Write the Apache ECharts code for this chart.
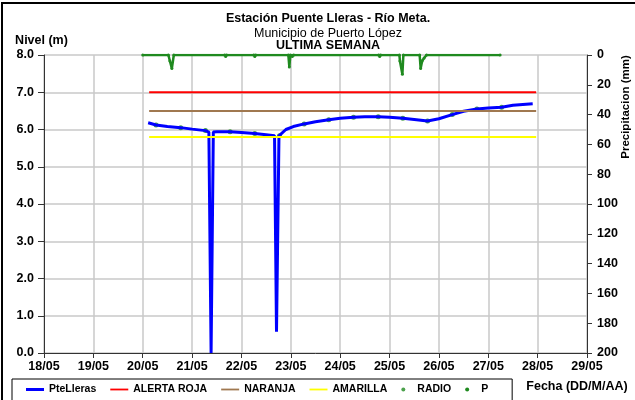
<!DOCTYPE html>
<html>
<head>
<meta charset="utf-8">
<script src="https://cdn.jsdelivr.net/npm/echarts@6/dist/echarts.min.js"></script>
<style>
  html, body { margin: 0; padding: 0; background: #fff; }
  #chart { width: 635px; height: 400px; }
</style>
</head>
<body>
<div id="chart"></div>
<script>
// nivel del rio (dias de mayo, metros)
var nivelDias = [20.11, 20.27, 20.5, 20.77, 21.0, 21.27, 21.34, 21.385, 21.43, 21.5, 21.77, 22.0, 22.27, 22.5, 22.67, 22.71, 22.76, 22.9, 23.05, 23.27, 23.5, 23.77, 24.0, 24.27, 24.5, 24.77, 25.0, 25.27, 25.5, 25.77, 26.0, 26.27, 26.5, 26.77, 27.0, 27.27, 27.5, 27.7, 27.9]
var nivelValores = [6.18, 6.12, 6.08, 6.05, 6.01, 5.97, 5.93, 0, 5.93, 5.94, 5.94, 5.92, 5.89, 5.86, 5.83, 0.57, 5.83, 6.0, 6.08, 6.15, 6.21, 6.26, 6.30, 6.33, 6.34, 6.34, 6.33, 6.30, 6.27, 6.23, 6.29, 6.40, 6.49, 6.55, 6.58, 6.60, 6.65, 6.67, 6.69]
// lecturas radio
var radioDias = [20.27, 20.77, 21.27, 21.77, 22.27, 22.77, 23.27, 23.77, 24.27, 24.77, 25.27, 25.77, 26.27, 26.77, 27.27]
var radioValores = [6.12, 6.05, 5.97, 5.94, 5.89, 5.83, 6.15, 6.26, 6.33, 6.34, 6.30, 6.23, 6.40, 6.55, 6.60]
// precipitacion (mm)
var precDias = [20.0, 20.52, 20.55, 20.59, 20.63, 21.66, 21.68, 21.70, 22.25, 22.27, 22.29, 22.95, 22.97, 22.99, 23.03, 23.06, 24.78, 24.80, 24.82, 25.20, 25.21, 25.26, 25.28, 25.61, 25.63, 25.66, 25.70, 25.75, 27.24]
var precValores = [0, 0, 4, 9, 0, 0, 1, 0, 0, 1, 0, 0, 8, 0, 1, 0, 0, 1, 0, 0, 4, 13, 0, 0, 9, 4, 2, 0, 0]
// umbrales
var umbralDias = [20.13, 27.97]
var alertaRoja = 7.0
var naranja = 6.5
var amarilla = 5.8

var fuente = 'Liberation Sans, Arial, sans-serif'

function pares(xs, ys) {
  var out = []
  xs.forEach(function (x, i) {
    out.push([x, ys[i]])
  })
  return out
}
function umbral(v) {
  return umbralDias.map(function (d) { return [d, v] })
}

var chart = echarts.init(document.getElementById('chart'))
chart.setOption({
  backgroundColor: '#ffffff',
  animation: false,
  title: [
    { text: 'Estación Puente Lleras - Río Meta.', left: 328, top: 12, textAlign: 'center', padding: 0,
      textStyle: { fontFamily: fuente, fontSize: 12.5, fontWeight: 'bold', color: '#000' } },
    { text: 'Municipio de Puerto López', left: 328, top: 27, textAlign: 'center', padding: 0,
      textStyle: { fontFamily: fuente, fontSize: 12.5, fontWeight: 'normal', color: '#000' } },
    { text: 'ULTIMA SEMANA', left: 328, top: 39, textAlign: 'center', padding: 0,
      textStyle: { fontFamily: fuente, fontSize: 12.5, fontWeight: 'bold', color: '#000' } }
  ],
  grid: { left: 44, right: 48, top: 55, bottom: 47 },
  legend: {
    left: 12,
    top: 379,
    padding: [5, 24, 20, 14],
    borderColor: '#000',
    borderWidth: 1,
    itemWidth: 18,
    itemHeight: 4,
    itemGap: 14,
    textStyle: { fontFamily: fuente, fontSize: 10.5, fontWeight: 'bold', color: '#000' },
    data: [
      { name: 'PteLleras', icon: 'path://M0,0H24V4H0Z' },
      { name: 'ALERTA ROJA', icon: 'path://M0,0H24V2.4H0Z' },
      { name: 'NARANJA', icon: 'path://M0,0H24V2.4H0Z' },
      { name: 'AMARILLA', icon: 'path://M0,0H24V2.4H0Z' },
      { name: 'RADIO', icon: 'circle' },
      { name: 'P', icon: 'circle' }
    ]
  },
  xAxis: {
    type: 'value',
    min: 18,
    max: 29,
    interval: 1,
    axisLine: { lineStyle: { color: '#333', width: 1 } },
    axisTick: { show: true, length: 5, lineStyle: { color: '#333' } },
    axisLabel: {
      margin: 7,
      fontFamily: fuente, fontSize: 12.5, fontWeight: 'bold', color: '#000',
      formatter: function (v) { return v + '/05' }
    },
    splitLine: { show: true, lineStyle: { color: '#c8c8c8', width: 1.5 } }
  },
  yAxis: [
    {
      type: 'value',
      min: 0,
      max: 8,
      interval: 1,
      name: 'Nivel (m)',
      nameGap: 8,
      nameTextStyle: { fontFamily: fuente, fontSize: 12.5, fontWeight: 'bold', color: '#000', padding: [0, 5, 0, 0] },
      axisLine: { show: true, lineStyle: { color: '#333', width: 1 } },
      axisTick: { show: true, length: 6, lineStyle: { color: '#333' } },
      axisLabel: {
        margin: 10,
        fontFamily: fuente, fontSize: 12.5, fontWeight: 'bold', color: '#000',
        formatter: function (v) { return v.toFixed(1) }
      },
      splitLine: { show: true, lineStyle: { color: '#c8c8c8', width: 1.5 } }
    },
    {
      type: 'value',
      min: 0,
      max: 200,
      interval: 20,
      inverse: true,
      position: 'right',
      axisLine: { show: true, lineStyle: { color: '#333', width: 1 } },
      axisTick: { show: true, length: 5, lineStyle: { color: '#333' } },
      axisLabel: {
        margin: 10,
        fontFamily: fuente, fontSize: 12.5, fontWeight: 'bold', color: '#000'
      },
      splitLine: { show: false }
    }
  ],
  series: [
    {
      name: 'PteLleras',
      type: 'line',
      yAxisIndex: 0,
      symbol: 'none',
      color: '#0000ff',
      lineStyle: { color: '#0000ff', width: 3 },
      data: pares(nivelDias, nivelValores)
    },
    {
      name: 'ALERTA ROJA',
      type: 'line',
      symbol: 'none',
      color: '#ff0000',
      lineStyle: { color: '#ff0000', width: 2 },
      data: umbral(alertaRoja)
    },
    {
      name: 'NARANJA',
      type: 'line',
      symbol: 'none',
      color: '#a07850',
      lineStyle: { color: '#a07850', width: 2 },
      data: umbral(naranja)
    },
    {
      name: 'AMARILLA',
      type: 'line',
      symbol: 'none',
      color: '#ffff00',
      lineStyle: { color: '#ffff00', width: 2 },
      data: umbral(amarilla)
    },
    {
      name: 'RADIO',
      type: 'scatter',
      symbol: 'circle',
      symbolSize: 5,
      color: '#1f8a1f',
      data: pares(radioDias, radioValores)
    },
    {
      name: 'P',
      type: 'line',
      yAxisIndex: 1,
      symbol: 'circle',
      symbolSize: 3,
      showSymbol: true,
      color: '#1f8a1f',
      lineStyle: { color: '#1f8a1f', width: 2.5 },
      data: pares(precDias, precValores)
    }
  ],
  graphic: [
    {
      type: 'rect',
      shape: { x: 2, y: 3, width: 700, height: 500 },
      style: { fill: 'none', stroke: '#000', lineWidth: 2 },
      silent: true
    },
    {
      type: 'text',
      x: 626,
      y: 107,
      rotation: Math.PI / 2,
      style: {
        text: 'Precipitacion (mm)',
        font: 'bold 11.5px ' + fuente,
        fill: '#000',
        align: 'center',
        verticalAlign: 'middle'
      }
    },
    {
      type: 'text',
      x: 577,
      y: 387,
      style: {
        text: 'Fecha (DD/M/AA)',
        font: 'bold 12.5px ' + fuente,
        fill: '#000',
        align: 'center',
        verticalAlign: 'middle'
      }
    }
  ]
})
</script>
</body>
</html>
